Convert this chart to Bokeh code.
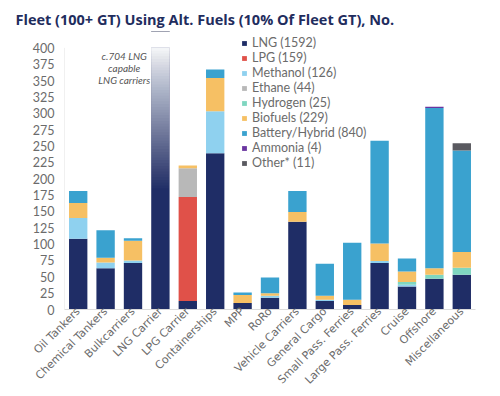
from bokeh.plotting import figure
from bokeh.models import Range1d, Label, Legend, LegendItem, ColumnDataSource
from bokeh.embed import file_html
from bokeh.resources import INLINE
import math

categories = ["Oil Tankers", "Chemical Tankers", "Bulkcarriers", "LNG Carrier", "LPG Carrier",
              "Containerships", "MPP", "RoRo", "Vehicle Carriers", "General Cargo",
              "Small Pass. Ferries", "Large Pass. Ferries", "Cruise", "Offshore", "Miscellaneous"]

lng      = [108, 63, 71, 704, 13, 239, 10, 18, 134, 13, 7, 71, 35, 47, 53]
lpg      = [0, 0, 0, 0, 159, 0, 0, 0, 0, 0, 0, 0, 0, 0, 0]
methanol = [32, 9, 4, 0, 0, 64, 0, 3, 0, 2, 0, 3, 3, 0, 0]
ethane   = [0, 0, 0, 0, 44, 0, 0, 0, 0, 0, 0, 0, 0, 0, 0]
hydrogen = [0, 0, 0, 0, 0, 0, 0, 0, 0, 0, 0, 0, 4, 6, 11]
biofuels = [23, 7, 30, 0, 4, 51, 12, 4, 15, 6, 8, 27, 16, 10, 24]
battery  = [18, 42, 4, 0, 0, 13, 4, 24, 32, 49, 87, 157, 20, 245, 155]
ammonia  = [0, 0, 0, 0, 0, 0, 0, 0, 0, 0, 0, 0, 0, 2, 0]
other    = [0, 0, 0, 0, 0, 0, 0, 0, 0, 0, 0, 0, 0, 0, 11]

series = ["LNG", "LPG", "Methanol", "Ethane", "Hydrogen", "Biofuels", "Battery/Hybrid", "Ammonia", "Other*"]
legend_labels = ["LNG (1592)", "LPG (159)", "Methanol (126)", "Ethane (44)", "Hydrogen (25)",
                 "Biofuels (229)", "Battery/Hybrid (840)", "Ammonia (4)", "Other* (11)"]
colors = ["#1f2d66", "#e05149", "#8fd1ef", "#b8b8b8", "#7fd6c0", "#f6c064", "#3aa2cf", "#6a35a0", "#5a5a60"]

y_ticks = list(range(0, 401, 25))
annotation = "c.704 LNG\ncapable\nLNG carriers"
lng_carrier = "LNG Carrier"
fade_from = 185
axis_top = 400

data = {"cat": categories}
for name, vals in zip(series, [lng, lpg, methanol, ethane, hydrogen, biofuels, battery, ammonia, other]):
    data[name] = vals
src = ColumnDataSource(data)

FONT = "Lato"
GREY = "#6b6b6b"

p = figure(x_range=categories, y_range=Range1d(0, 425), width=500, height=396,
           output_backend="svg", toolbar_location=None,
           min_border_left=64, min_border_right=25, min_border_top=31, min_border_bottom=87)

renderers = p.vbar_stack(series, x="cat", width=0.67, source=src, color=colors, line_width=0)

# fading top of the LNG carrier bar: overlapping white layers giving a linear fade
n = 50
step = (axis_top - fade_from) / n
bottoms = [fade_from + i * step for i in range(n)]
targets = [0.96 * (i + 1) / n for i in range(n)]
alphas = []
prev = 0.0
for t in targets:
    alphas.append(1 - (1 - t) / (1 - prev))
    prev = t
p.vbar(x=[lng_carrier] * n, bottom=bottoms, top=[axis_top] * n, width=0.67, fill_color="white",
       fill_alpha=alphas, line_width=0)
# white cover above the axis top for the long bar
p.vbar(x=[lng_carrier], bottom=[axis_top], top=[max(lng)], width=0.7, fill_color="white", line_width=0)

# y axis line only up to the last tick
p.segment(x0=[0], x1=[0], y0=[0], y1=[axis_top], line_color="#e2e2e2", line_width=1)

items = [LegendItem(label=lab, renderers=[r]) for lab, r in zip(legend_labels, renderers)]
legend = Legend(items=items, location=(177, 139), glyph_width=6, glyph_height=6,
                label_height=15, label_standoff=5, spacing=0, padding=0, margin=0,
                label_text_font=FONT, label_text_font_size="12.5px", label_text_color=GREY,
                border_line_alpha=0, background_fill_alpha=0)
p.add_layout(legend, "center")

p.add_layout(Label(x=2.18, y=396, text=annotation, text_align="center", text_baseline="top",
                   text_font=FONT, text_font_style="italic", text_font_size="10px",
                   text_color="#555555", text_line_height=1.0))

p.title.text = "Fleet (100+ GT) Using Alt. Fuels (10% Of Fleet GT), No."
p.title.text_font = "Open Sans"
p.title.text_font_size = "14.5px"
p.title.text_font_style = "bold"
p.title.text_color = "#1f2d5e"
p.title.align = "left"
p.title.offset = -49
p.title.standoff = 5

p.xgrid.grid_line_color = None
p.ygrid.grid_line_color = None
p.outline_line_color = None
p.x_range.range_padding = 0

p.yaxis.ticker = y_ticks
p.yaxis.major_tick_line_color = None
p.yaxis.minor_tick_line_color = None
p.yaxis.major_tick_out = 0
p.yaxis.major_tick_in = 0
p.yaxis.axis_line_color = None
p.yaxis.major_label_text_font = FONT
p.yaxis.major_label_text_font_size = "12.5px"
p.yaxis.major_label_text_color = GREY
p.yaxis.major_label_standoff = 10

p.xaxis.major_tick_line_color = None
p.xaxis.major_tick_out = 0
p.xaxis.major_tick_in = 0
p.xaxis.axis_line_color = "#dcdcdc"
p.xaxis.major_label_orientation = math.pi / 4
p.xaxis.major_label_text_font = "DejaVu Sans"
p.xaxis.major_label_text_font_size = "11px"
p.xaxis.major_label_text_color = GREY
p.xaxis.major_label_standoff = 0

open("out.html", "w").write(file_html(p, INLINE))
